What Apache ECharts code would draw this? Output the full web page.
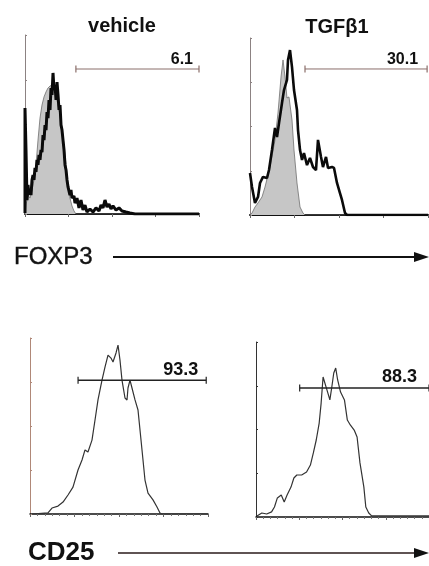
<!DOCTYPE html>
<html><head><meta charset="utf-8">
<script src="https://cdn.jsdelivr.net/npm/echarts/dist/echarts.min.js"></script>
<style>html,body{margin:0;padding:0;background:#fff}#c{width:429px;height:566px}</style>
</head><body><div id="c"></div>
<script>
// Column titles and gate labels
const panelTitles = ['vehicle', 'TGFβ1'];
const markerNames = ['FOXP3', 'CD25'];
const gateLabels = ['6.1', '30.1', '93.3', '88.3'];
const gateStart = [1.17, 1.236, 1.08, 1.01];   // log decades
const gateEnd = [4.0, 3.98, 3.96, 4.0];
const gateLevel = [81, 82.5, 76, 73.7];        // % of max count

// x = log10 fluorescence (decades 0-4), y = relative count (0-100)
const foxp3VehicleIso = [[0,0],[0.023,5.0],[0.069,10.6],[0.115,8.9],[0.161,13.4],[0.207,19.0],[0.253,27.4],[0.299,41.3],[0.345,53.6],[0.391,60.9],[0.437,65.4],[0.483,68.2],[0.529,70.4],[0.575,71.5],[0.621,72.1],[0.667,70.4],[0.713,66.5],[0.759,60.9],[0.805,55.3],[0.851,48.0],[0.897,38.5],[0.943,27.4],[0.989,16.2],[1.034,8.9],[1.080,4.5],[1.126,1.7],[1.172,0],[4,0]];
const foxp3VehicleStain = [[0,0.6],[0,59.2],[0.023,35.8],[0.046,7.8],[0.069,16.2],[0.092,10.6],[0.115,13.4],[0.138,10.6],[0.161,19.0],[0.184,21.8],[0.207,19.0],[0.230,25.7],[0.253,23.5],[0.276,30.2],[0.299,27.4],[0.322,33.0],[0.345,30.2],[0.368,35.8],[0.391,34.6],[0.414,44.1],[0.437,41.3],[0.460,49.7],[0.483,46.9],[0.506,57.0],[0.529,53.6],[0.552,63.7],[0.575,58.1],[0.598,70.4],[0.621,66.5],[0.644,78.8],[0.667,69.3],[0.690,72.1],[0.713,63.7],[0.736,73.7],[0.759,66.5],[0.782,58.1],[0.805,60.9],[0.828,49.7],[0.851,46.9],[0.874,41.3],[0.897,35.8],[0.920,27.4],[0.943,24.6],[0.966,19.0],[0.989,15.1],[1.011,16.2],[1.034,10.6],[1.057,13.4],[1.080,8.9],[1.126,10.1],[1.149,6.1],[1.195,8.9],[1.241,3.4],[1.287,7.8],[1.333,2.2],[1.379,5.0],[1.425,1.1],[1.494,2.8],[1.563,1.1],[1.632,3.4],[1.701,1.7],[1.747,5.0],[1.793,3.4],[1.839,7.8],[1.885,3.9],[1.931,5.6],[1.977,2.8],[2.023,4.5],[2.092,2.2],[2.161,3.4],[2.230,1.7],[2.322,1.1],[2.414,0.6],[2.529,0],[4,0]];
const foxp3TgfIso = [[0,0],[0.045,1.1],[0.112,4.5],[0.180,6.8],[0.270,10.2],[0.337,15.8],[0.449,27.1],[0.562,42.4],[0.629,57.6],[0.697,78.0],[0.742,87.6],[0.787,78.0],[0.831,66.1],[0.876,66.7],[0.944,53.7],[0.989,36.7],[1.056,18.1],[1.124,4.5],[1.191,1.1],[1.236,0],[4,0]];
const foxp3TgfStain = [[0,23.7],[0.045,15.8],[0.112,6.8],[0.180,10.2],[0.225,18.1],[0.292,21.5],[0.382,20.9],[0.427,25.4],[0.494,36.7],[0.562,49.2],[0.607,44.1],[0.652,52.0],[0.719,63.3],[0.764,70.6],[0.831,76.3],[0.854,87.6],[0.899,93.2],[0.944,83.6],[0.989,70.6],[1.056,59.3],[1.079,48.0],[1.124,36.7],[1.169,31.1],[1.213,35.0],[1.281,28.2],[1.348,32.2],[1.416,27.1],[1.483,25.4],[1.528,42.4],[1.596,32.8],[1.640,27.1],[1.708,32.8],[1.753,26.6],[1.843,27.1],[1.888,26.6],[1.955,18.1],[2.022,12.4],[2.067,8.5],[2.135,1.1],[2.180,0],[4,0]];
const cd25Vehicle = [[0.045,0],[0.404,0.6],[0.494,3.4],[0.629,4.5],[0.742,6.8],[0.854,10.8],[0.966,15.3],[1.079,25.0],[1.169,30.7],[1.236,36.4],[1.303,35.2],[1.393,42.0],[1.461,53.4],[1.528,64.8],[1.618,76.1],[1.685,83.5],[1.753,90.3],[1.820,88.6],[1.865,86.4],[1.933,91.5],[1.978,96.0],[2.022,87.5],[2.067,76.1],[2.135,65.9],[2.180,64.8],[2.202,71.6],[2.247,76.1],[2.292,71.6],[2.360,64.8],[2.427,59.1],[2.472,47.7],[2.517,36.4],[2.584,19.3],[2.652,11.9],[2.764,8.0],[2.854,4.0],[2.921,0.6],[2.966,0],[4,0]];
const cd25Tgf = [[0.022,0.6],[0.135,2.3],[0.247,1.7],[0.360,2.9],[0.427,5.7],[0.494,10.9],[0.584,12.6],[0.652,8.6],[0.719,12.6],[0.809,17.1],[0.876,22.3],[0.944,24.0],[1.056,24.0],[1.169,25.7],[1.258,29.7],[1.326,36.6],[1.393,44.0],[1.461,53.7],[1.506,65.1],[1.551,80.0],[1.596,80.0],[1.640,72.6],[1.708,66.9],[1.753,74.3],[1.798,82.3],[1.843,85.1],[1.888,78.3],[1.955,71.4],[2.045,66.9],[2.112,55.4],[2.180,52.6],[2.270,49.7],[2.337,45.7],[2.404,30.9],[2.494,17.1],[2.539,5.7],[2.607,2.3],[2.674,0.6],[4,0.6]];

const grids = [
  {left:25, top:35, width:174, height:179},
  {left:250, top:38, width:178, height:177},
  {left:30, top:338, width:178, height:176},
  {left:256, top:342, width:178, height:175}
];
const yAxisColors = ['#8c8282', '#8c8282', '#b08878', '#333333'];

const chart = echarts.init(document.getElementById('c'), null, {renderer:'canvas'});

const xAxis = grids.map((g, i) => ({
  gridIndex: i, type: 'value', min: 0, max: 4, interval: 1,
  axisLabel: {show: false}, splitLine: {show: false},
  axisLine: {lineStyle: {color: '#111', width: i < 2 ? 2 : 1.5}},
  axisTick: {show: true, length: 3, lineStyle: {color: '#666', width: 1}},
  minorTick: i >= 2 ? {show: true, splitNumber: 6, length: 2, lineStyle: {color: '#777'}} : {show: false}
}));
const yAxis = grids.map((g, i) => ({
  gridIndex: i, type: 'value', min: 0, max: 100, interval: 25,
  axisLabel: {show: false}, splitLine: {show: false},
  axisLine: {show: true, lineStyle: {color: yAxisColors[i], width: 1}},
  axisTick: {show: true, inside: true, length: 2, lineStyle: {color: yAxisColors[i]}}
}));

function isoSeries(idx, data) {
  return {type:'line', xAxisIndex:idx, yAxisIndex:idx, data, showSymbol:false, symbol:'none',
    lineStyle:{color:'#6e6e6e', width:0.8}, areaStyle:{color:'#c6c6c6', opacity:1}, z:2, silent:true};
}
function stainSeries(idx, data, width, color) {
  return {type:'line', xAxisIndex:idx, yAxisIndex:idx, data, showSymbol:false, symbol:'none',
    lineStyle:{color, width}, z:3, silent:true};
}
function gateSeries(idx, color, width, fontSize, offX) {
  return {type:'line', xAxisIndex:idx, yAxisIndex:idx,
    data:[[gateStart[idx], gateLevel[idx]], [gateEnd[idx], gateLevel[idx]]],
    symbol:'rect', symbolSize:[1.2, 7], showSymbol:true,
    itemStyle:{color}, lineStyle:{color, width}, z:4, silent:true, clip:false,
    label:{show:true, position:'top', distance:0, align:'right', offset:[offX, 2],
      formatter: p => p.dataIndex === 1 ? gateLabels[idx] : '',
      fontFamily:'Liberation Sans, Arial, sans-serif', fontWeight:'bold', fontSize, color:'#111'}};
}

const series = [
  isoSeries(0, foxp3VehicleIso), stainSeries(0, foxp3VehicleStain, 3, '#0a0a0a'),
  isoSeries(1, foxp3TgfIso), stainSeries(1, foxp3TgfStain, 2.6, '#0a0a0a'),
  stainSeries(2, cd25Vehicle, 1.2, '#333'),
  stainSeries(3, cd25Tgf, 1.2, '#333'),
  gateSeries(0, '#8a6e6a', 1, 16, -6),
  gateSeries(1, '#8a6e6a', 1, 16, -9),
  gateSeries(2, '#222', 1.5, 18, -8),
  gateSeries(3, '#222', 1.5, 18, -12)
];

const font = 'Liberation Sans, Arial, sans-serif';
const graphic = [
  {type:'text', x:122, y:26, style:{text:panelTitles[0], font:'bold 20px ' + font, fill:'#111', textAlign:'center', textVerticalAlign:'middle'}},
  {type:'text', x:337, y:27, style:{text:panelTitles[1], font:'bold 20px ' + font, fill:'#111', textAlign:'center', textVerticalAlign:'middle'}},
  {type:'text', x:14, y:257, style:{text:markerNames[0], font:'24px ' + font, fill:'#111', textAlign:'left', textVerticalAlign:'middle', stroke:'#111', lineWidth:0.4}},
  {type:'line', shape:{x1:113, y1:257, x2:418, y2:257}, style:{stroke:'#111', lineWidth:2}},
  {type:'polygon', shape:{points:[[414,252],[429,257],[414,262]]}, style:{fill:'#111'}},
  {type:'text', x:28, y:553, style:{text:markerNames[1], font:'bold 26px ' + font, fill:'#111', textAlign:'left', textVerticalAlign:'middle'}},
  {type:'line', shape:{x1:118, y1:553, x2:418, y2:553}, style:{stroke:'#2a1a1a', lineWidth:1.6}},
  {type:'polygon', shape:{points:[[414,548],[429,553],[414,558]]}, style:{fill:'#111'}}
];

chart.setOption({
  animation: false,
  backgroundColor: '#fff',
  grid: grids,
  xAxis, yAxis, series, graphic
});
</script>
</body></html>
